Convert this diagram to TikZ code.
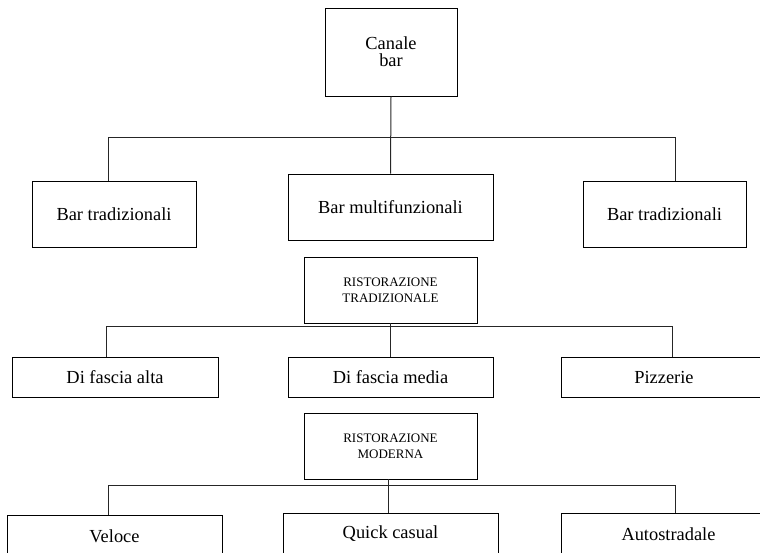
\documentclass[tikz,border=0pt]{standalone}
\usepackage{fontspec}
\setmainfont{Liberation Serif}
\begin{document}
\begin{tikzpicture}[x=1pt,y=-1pt,
  box/.style={draw=black,line width=0.9pt,rectangle,inner sep=0pt,align=center,
    font=\fontsize{18.4}{17}\selectfont},
  smallbox/.style={box,font=\fontsize{13}{16}\selectfont},
  conn/.style={draw=black!85,line width=1pt}]
\useasboundingbox (0,0) rectangle (760,552);
\clip (0,0) rectangle (760,552);
% level 0
\node[box,minimum width=132pt,minimum height=88pt] (top) at (391,52) {Canale\\bar};
\node[box,minimum width=164pt,minimum height=66pt] (bt1) at (114,214) {Bar tradizionali};
\node[box,minimum width=205pt,minimum height=66pt] (bm) at (390.5,207) {Bar multifunzionali};
\node[box,minimum width=163pt,minimum height=66pt] (bt2) at (664.5,214) {Bar tradizionali};
% level 1
\node[smallbox,minimum width=173pt,minimum height=66pt] (rt) at (390.5,290) {RISTORAZIONE\\TRADIZIONALE};
\node[box,minimum width=206pt,minimum height=40pt] (fa) at (115,377) {Di fascia alta};
\node[box,minimum width=205pt,minimum height=40pt] (fm) at (390.5,377) {Di fascia media};
\node[box,minimum width=206pt,minimum height=40pt] (pz) at (664,377) {Pizzerie};
% level 2
\node[smallbox,minimum width=173pt,minimum height=66pt] (rm) at (390.5,446) {RISTORAZIONE\\MODERNA};
\node[box,minimum width=215pt,minimum height=42pt] (ve) at (114.5,536) {Veloce};
\node[box,minimum width=215pt,minimum height=42pt] (qc) at (390.5,534) {Quick casual};
\node[box,minimum width=215pt,minimum height=42pt] (au) at (668.5,534) {Autostradale};
% connectors
\coordinate (L1) at (108,137);
\coordinate (R1) at (675,137);
\coordinate (L2) at (106,326);
\coordinate (R2) at (672,326);
\coordinate (L3) at (108,485);
\coordinate (R3) at (675,485);
\draw[conn] (top.south) -- (bm.north);
\draw[conn] (bt1.north -| L1) -- (L1) -- (R1) -- (bt2.north -| R1);
\draw[conn] (rt.south) -- (fm.north);
\draw[conn] (fa.north -| L2) -- (L2) -- (R2) -- (pz.north -| R2);
\draw[conn] ([xshift=-2.5pt]rm.south) -- ([xshift=-2.5pt]qc.north);
\draw[conn] (ve.north -| L3) -- (L3) -- (R3) -- (au.north -| R3);
\end{tikzpicture}
\end{document}
